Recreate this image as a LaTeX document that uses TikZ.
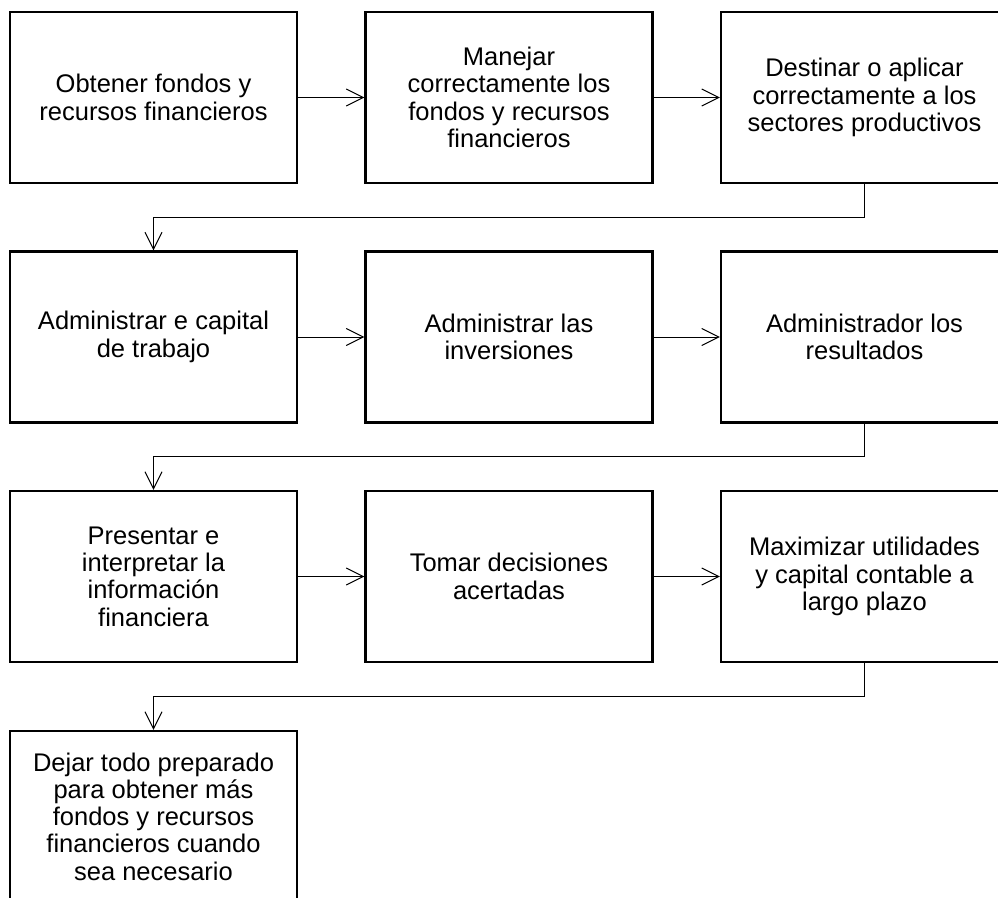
\documentclass[tikz,border=0pt]{standalone}
\usepackage{fontspec}
\setmainfont{Liberation Sans}
\usetikzlibrary{arrows.meta}
\begin{document}
\begin{tikzpicture}[x=1pt,y=-1pt,
  stepbox/.style={draw=black,line width=2.4pt,rectangle,minimum width=287pt,minimum height=171pt,
    inner sep=0pt,align=center,font=\fontsize{25.5}{27.3}\selectfont},
  flow/.style={line width=1pt,-{Straight Barb[length=17pt,width=17pt,line width=1pt]}}]
\clip (0,0) rectangle (998,897);
\fill[white] (0,0) rectangle (998,897);
\node[stepbox] (a1) at (153.5,97.5) {Obtener fondos y\\recursos financieros};
\node[stepbox] (a2) at (509,97.5) {Manejar\\correctamente los\\fondos y recursos\\financieros};
\node[stepbox] (a3) at (864.5,97.5) {Destinar o aplicar\\correctamente a los\\sectores productivos};
\node[stepbox] (b1) at (153.5,337) {Administrar e capital\\de trabajo};
\node[stepbox] (b2) at (509,337) {Administrar las\\inversiones};
\node[stepbox] (b3) at (864.5,337) {Administrador los\\resultados};
\node[stepbox] (c1) at (153.5,576.5) {Presentar e\\interpretar la\\informaci\'on\\financiera};
\node[stepbox] (c2) at (509,576.5) {Tomar decisiones\\acertadas};
\node[stepbox] (c3) at (864.5,576.5) {Maximizar utilidades\\y capital contable a\\largo plazo};
\node[stepbox] (d1) at (153.5,816.5) {Dejar todo preparado\\para obtener m\'as\\fondos y recursos\\financieros cuando\\sea necesario};
\draw[flow] (a1) -- (a2);
\draw[flow] (a2) -- (a3);
\draw[flow] (b1) -- (b2);
\draw[flow] (b2) -- (b3);
\draw[flow] (c1) -- (c2);
\draw[flow] (c2) -- (c3);
\draw[flow] (a3.south) -- ++(0,33) -| (b1.north);
\draw[flow] (b3.south) -- ++(0,33) -| (c1.north);
\draw[flow] (c3.south) -- ++(0,33) -| (d1.north);
\end{tikzpicture}
\end{document}
